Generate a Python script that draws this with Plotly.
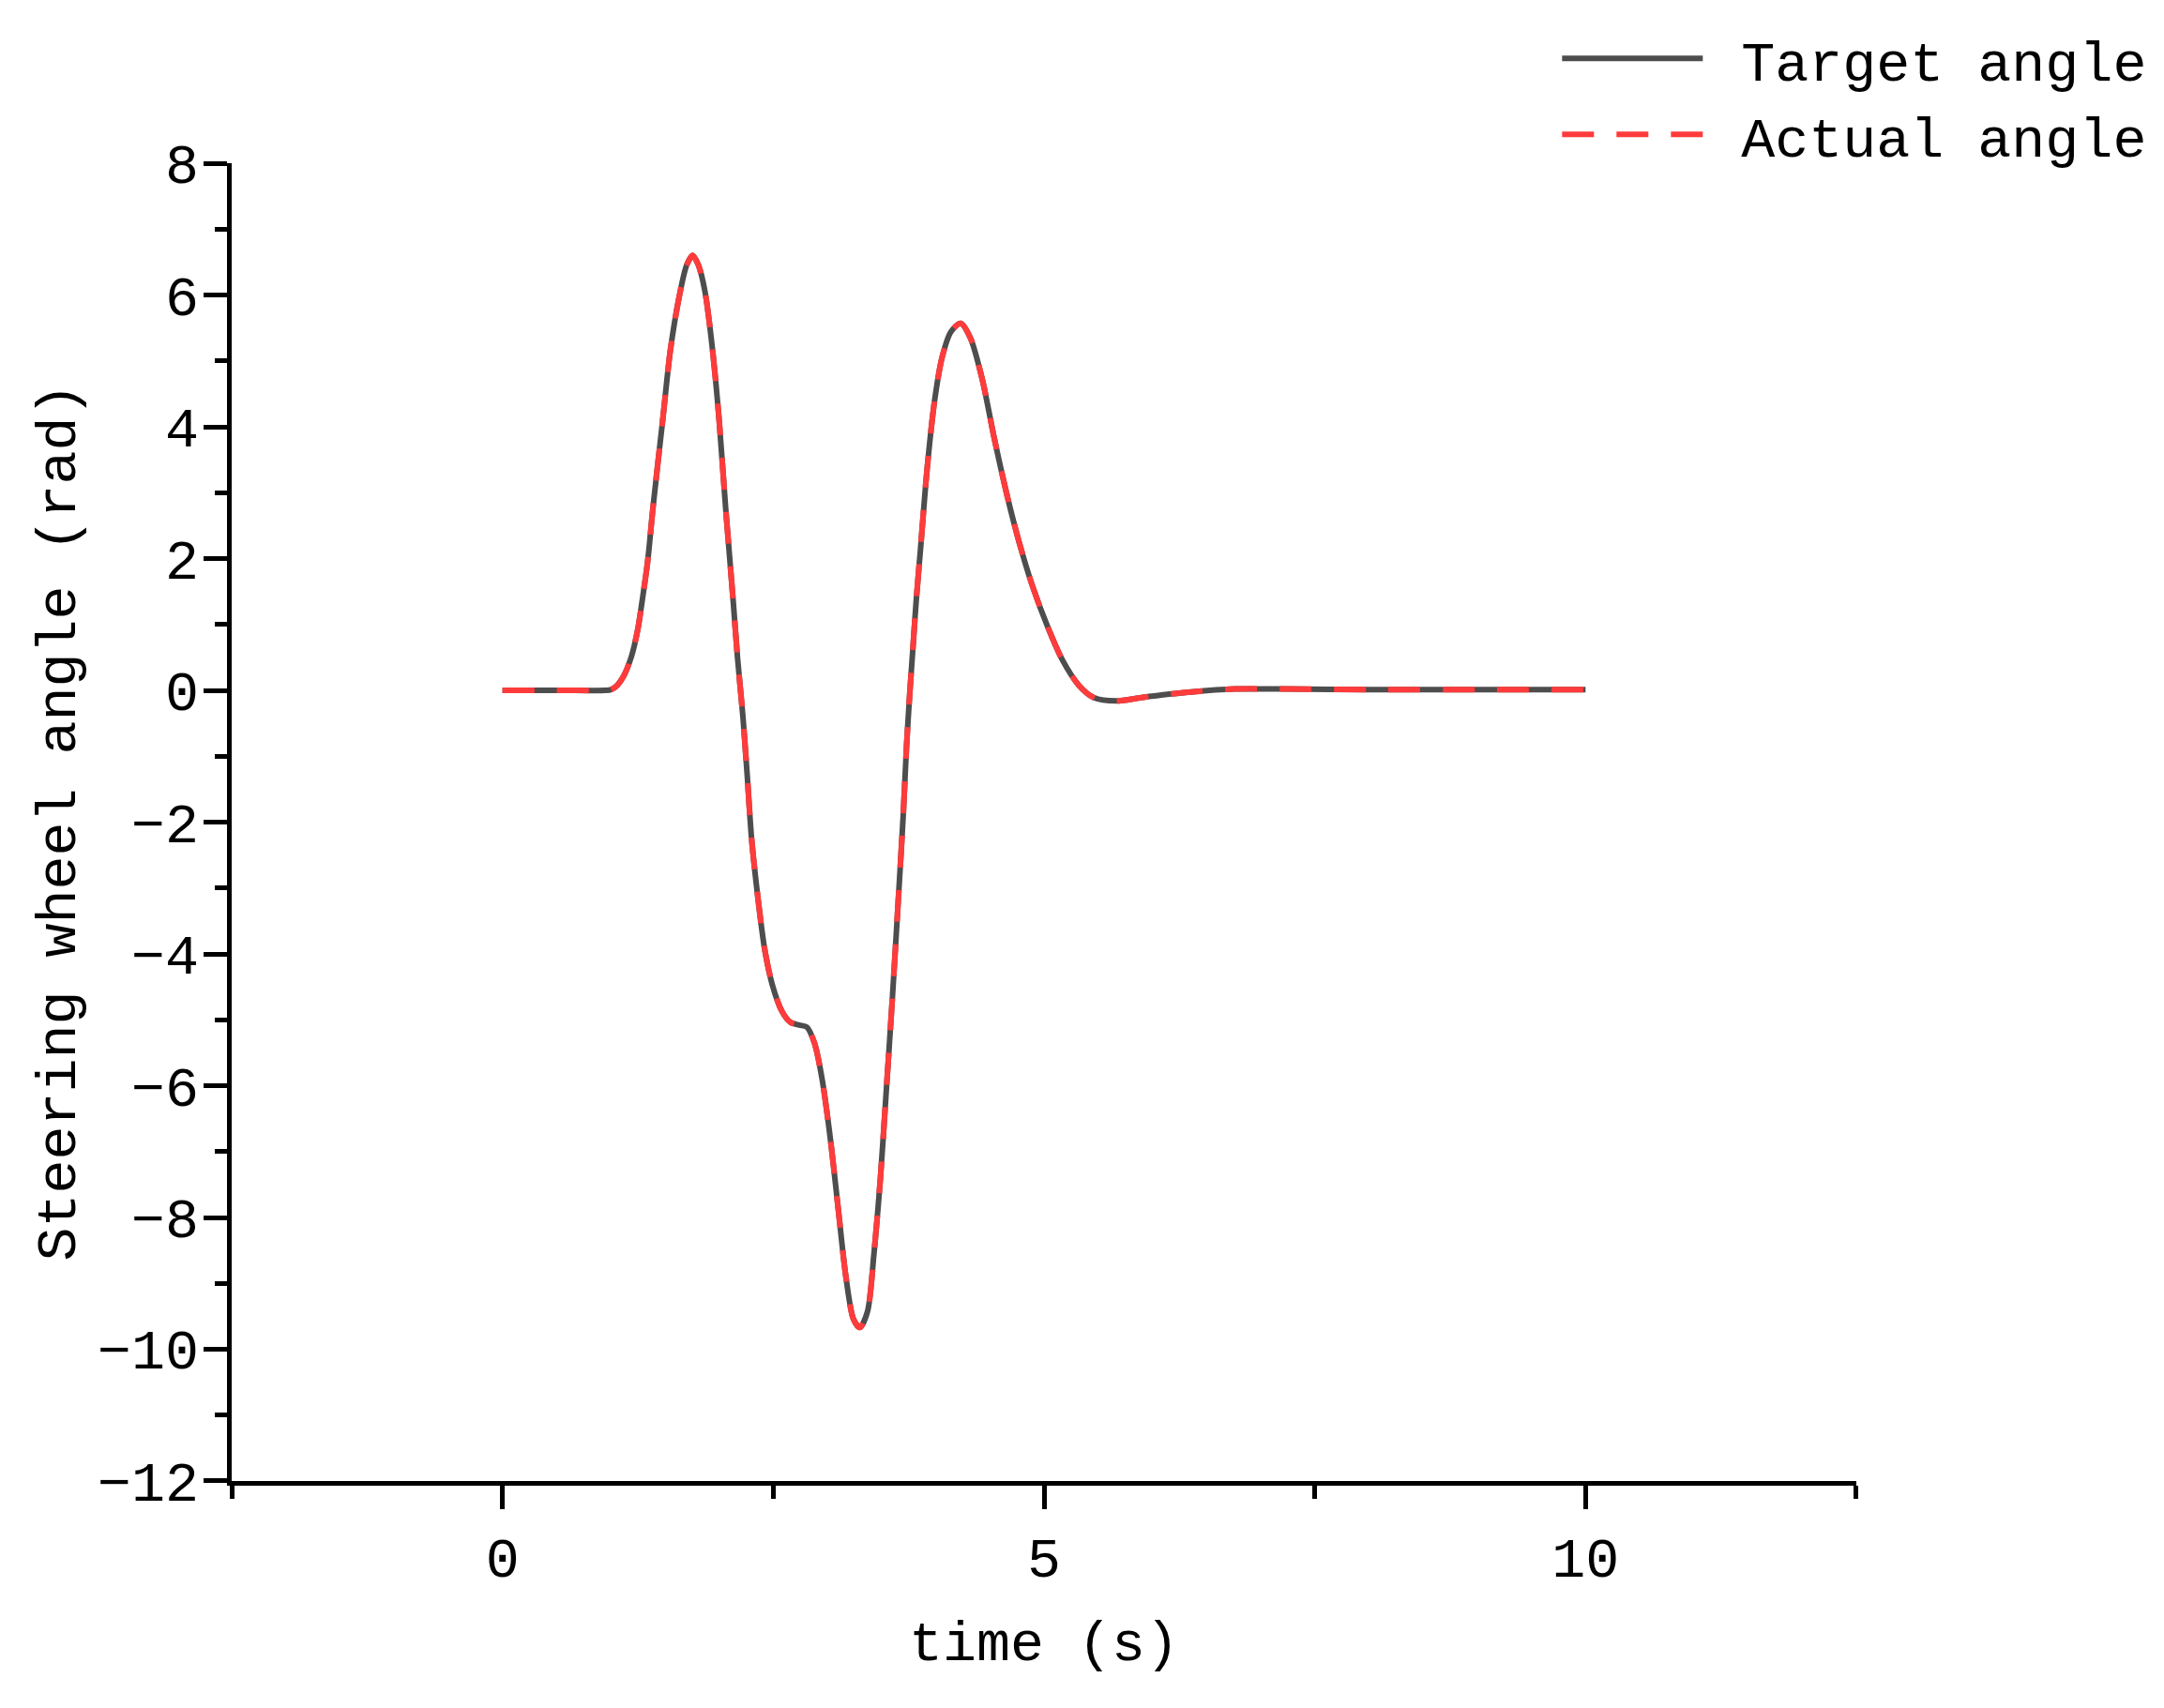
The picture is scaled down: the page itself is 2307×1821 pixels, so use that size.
import plotly.graph_objects as go

# time (s)
time_s = [0.0, 0.5, 0.95, 1.0, 1.05, 1.12, 1.19, 1.25, 1.29, 1.34, 1.39, 1.48, 1.55, 1.63, 1.70,
          1.755, 1.81, 1.87, 1.94, 2.00, 2.06, 2.13, 2.17, 2.22, 2.26, 2.30, 2.36, 2.42,
          2.49, 2.58, 2.66, 2.74, 2.81, 2.88, 2.95, 3.03, 3.10, 3.17, 3.24, 3.30, 3.37,
          3.43, 3.49, 3.54, 3.60, 3.66, 3.70, 3.73, 3.76, 3.79, 3.82, 3.86, 3.92, 3.99, 4.06,
          4.14, 4.23, 4.32, 4.43, 4.54, 4.66, 4.77, 4.89, 5.03, 5.17, 5.32, 5.46, 5.67, 5.90,
          6.33, 6.76, 7.20, 8.0, 9.0, 10.0]

# Target angle (rad)
target_angle = [0.0, 0.0, 0.0, 0.01, 0.06, 0.22, 0.51, 0.93, 1.36, 1.95, 2.78, 4.11, 5.16, 5.96,
                6.45, 6.60, 6.45, 6.05, 5.16, 4.11, 2.78, 1.36, 0.50, -0.40, -1.30, -2.25, -3.17,
                -3.92, -4.46, -4.87, -5.04, -5.08, -5.11, -5.35, -5.89, -6.84, -7.87, -8.89, -9.54,
                -9.67, -9.43, -8.55, -7.39, -6.17, -4.67, -3.03, -1.90, -0.87, -0.06, 0.65, 1.36,
                2.15, 3.35, 4.40, 5.06, 5.44, 5.57, 5.35, 4.72, 3.83, 2.95, 2.25, 1.60, 0.98, 0.46,
                0.08, -0.11, -0.16, -0.11, -0.03, 0.02, 0.02, 0.01, 0.01, 0.01]

# Actual angle (rad) - overlaps the target
actual_angle = [0.0, 0.0, 0.0, 0.01, 0.06, 0.22, 0.51, 0.93, 1.36, 1.95, 2.78, 4.11, 5.16, 5.96,
                6.45, 6.60, 6.45, 6.05, 5.16, 4.11, 2.78, 1.36, 0.50, -0.40, -1.30, -2.25, -3.17,
                -3.92, -4.46, -4.87, -5.04, -5.08, -5.11, -5.35, -5.89, -6.84, -7.87, -8.89, -9.54,
                -9.67, -9.43, -8.55, -7.39, -6.17, -4.67, -3.03, -1.90, -0.87, -0.06, 0.65, 1.36,
                2.15, 3.35, 4.40, 5.06, 5.44, 5.57, 5.35, 4.72, 3.83, 2.95, 2.25, 1.60, 0.98, 0.46,
                0.08, -0.11, -0.16, -0.11, -0.03, 0.02, 0.02, 0.01, 0.01, 0.01]

FONT = "Liberation Mono"
FS = 60

fig = go.Figure()
fig.add_trace(go.Scatter(x=time_s, y=target_angle, mode="lines", name="\u00a0Target angle",
                         line=dict(color="#4d4d4d", width=6, shape="spline", smoothing=0.8)))
fig.add_trace(go.Scatter(x=time_s, y=actual_angle, mode="lines", name="\u00a0Actual angle",
                         line=dict(color="#ff3b3b", width=6, dash="34px,24px",
                                   shape="spline", smoothing=0.8)))

axis_common = dict(showline=True, linewidth=5, linecolor="black", ticks="outside",
                   ticklen=25, tickwidth=5, tickcolor="black", showgrid=False, zeroline=False,
                   tickfont=dict(family=FONT, size=FS, color="black"))

fig.update_xaxes(range=[-2.5001, 12.5001], tick0=0, dtick=5,
                 minor=dict(dtick=2.5, tick0=0, ticks="outside", ticklen=14, tickwidth=5,
                            tickcolor="black"),
                 title=dict(text="time (s)", font=dict(family=FONT, size=FS, color="black"),
                            standoff=31),
                 **axis_common)
fig.update_yaxes(range=[-12.0001, 8.0001], tick0=0, dtick=2,
                 minor=dict(dtick=1, tick0=0, ticks="outside", ticklen=13, tickwidth=5,
                            tickcolor="black"),
                 ticklabelstandoff=-7,
                 title=dict(text="Steering wheel angle (rad)",
                            font=dict(family=FONT, size=FS, color="black"), standoff=5),
                 **axis_common)

fig.update_layout(
    width=2299, height=1813,
    margin=dict(l=239, r=328, t=166, b=242, autoexpand=False),
    paper_bgcolor="white", plot_bgcolor="white",
    font=dict(family=FONT, size=FS, color="black"),
    legend=dict(x=0.816, y=1.112, xanchor="left", yanchor="top", bgcolor="rgba(0,0,0,0)",
                font=dict(family=FONT, size=FS, color="black"), itemwidth=150,
                tracegroupgap=0),
)

fig.write_html("out.html")
